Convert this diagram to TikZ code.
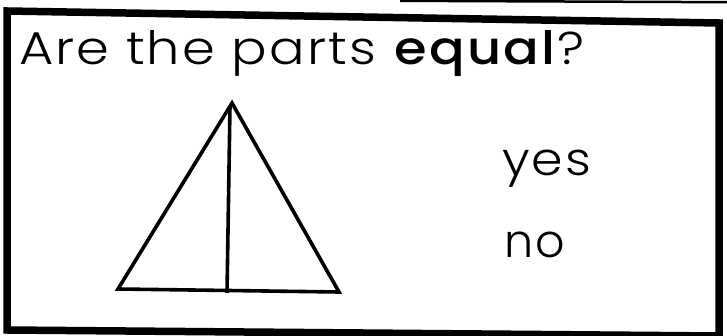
\documentclass[tikz,border=0pt]{standalone}
\usepackage{fontspec}
\setmainfont{Poppins}[UprightFont=* Light, BoldFont=* Medium, LetterSpace=4]
\begin{document}
\begin{tikzpicture}[x=1pt,y=-1pt,
  frame/.style={line width=7.5pt,line join=miter},
  triline/.style={line width=3.6pt,line join=miter},
  lbl/.style={inner sep=0pt,anchor=base west,font=\fontsize{46}{50}\selectfont}]
\useasboundingbox (0,0) rectangle (727,336);
% scan artefact at the top
\draw[line width=2.5pt] (400,0.8) -- (727,2.2);
% frame
\coordinate (tl) at (7,11);
\coordinate (tr) at (719,23);
\coordinate (br) at (719,336);
\coordinate (bl) at (7,330);
\draw[frame] (tl) -- (tr) -- (br) -- (bl) -- cycle;
% title
\node[lbl] (title) at (19,65) {\scalebox{1.145}[1]{Are the parts \textbf{equal}?}};
% triangle
\coordinate (apex) at (232,103);
\coordinate (left) at (118,289);
\coordinate (right) at (339,292);
\coordinate (mtop) at (230,106);
\coordinate (mbot) at (227,293);
\draw[triline] (apex) -- (right) -- (left) -- cycle;
\draw[triline] (mtop) -- (mbot);
% answers
\node[lbl] (yes) at (502,176) {\scalebox{1.1}[1]{yes}};
\node[lbl] (no) at (504,258) {no};
\end{tikzpicture}
\end{document}
